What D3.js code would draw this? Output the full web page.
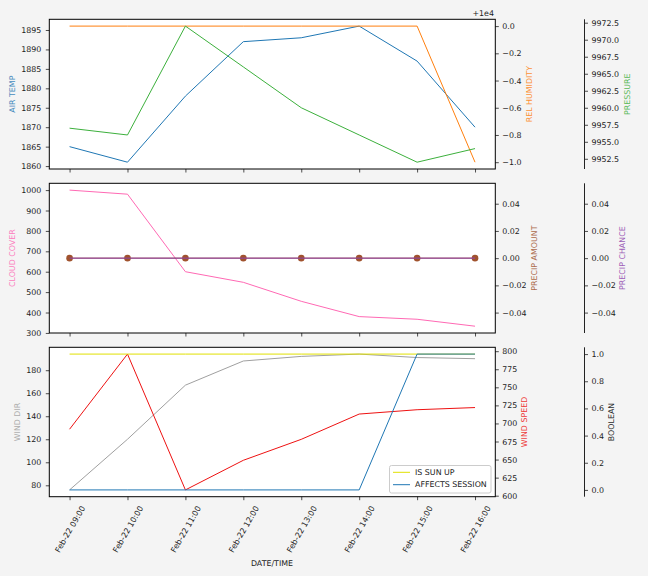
<!DOCTYPE html>
<html>
<head>
<meta charset="utf-8">
<script src="https://cdn.jsdelivr.net/npm/d3@7"></script>
<style>
  html, body { margin: 0; padding: 0; background: #f4f4f4; }
  svg { display: block; font-family: "DejaVu Sans", sans-serif; }
  .tick text { font-size: 7.9px; fill: #222; }
</style>
</head>
<body>
<svg id="chart" width="648" height="576"></svg>
<script>
// ---- data ----
const times = ["2022-02-22T09:00","2022-02-22T10:00","2022-02-22T11:00","2022-02-22T12:00",
               "2022-02-22T13:00","2022-02-22T14:00","2022-02-22T15:00","2022-02-22T16:00"];
const airTemp = [1865, 1861, 1878, 1892, 1893, 1896, 1887, 1870];
const relHumidity = [10000, 10000, 10000, 10000, 10000, 10000, 10000, 9999];
const pressure = [9957, 9956, 9972, 9966, 9960, 9956, 9952, 9954];
const cloudCover = [1000, 980, 600, 548, 455, 380, 367, 333];
const precipAmount = [0, 0, 0, 0, 0, 0, 0, 0];
const precipChance = [0, 0, 0, 0, 0, 0, 0, 0];
const windDir = [76, 120, 167, 188, 192, 194, 191, 190];
const windSpeed = [692, 796, 608, 649, 678, 713, 719, 722];
const isSunUp = [1, 1, 1, 1, 1, 1, 1, 1];
const affectsSession = [0, 0, 0, 0, 0, 0, 1, 1];
const humidityTicks = [0, -0.2, -0.4, -0.6, -0.8, -1.0];
const pressureTicks = [9952.5, 9955, 9957.5, 9960, 9962.5, 9965, 9967.5, 9970, 9972.5];
const airTempTicks = [1860, 1865, 1870, 1875, 1880, 1885, 1890, 1895];
const cloudTicks = [300, 400, 500, 600, 700, 800, 900, 1000];
const precipTicks = [-0.04, -0.02, 0, 0.02, 0.04];
const windDirTicks = [80, 100, 120, 140, 160, 180];
const windSpeedTicks = [600, 625, 650, 675, 700, 725, 750, 775, 800];
const boolTicks = [0, 0.2, 0.4, 0.6, 0.8, 1.0];

// ---- colors ----
const C = {
  air: "#1f77b4", hum: "#ff7f0e", pres: "#3cb03c",
  cloud: "#ff69b4", pamt: "#a0522d", pch: "#8e44ad",
  wdir: "#a0a0a0", wspd: "#ee1111", sun: "#e0e000", sess: "#1f77b4"
};
const FS = 7.9;

const svg = d3.select("#chart");
const parse = d3.timeParse("%Y-%m-%dT%H:%M");
const dates = times.map(parse);

const L = 49.3, R = 495.3, farX = 584.5;
const panels = [{top: 19.3, bot: 169}, {top: 183.3, bot: 333}, {top: 347.3, bot: 496.7}];

function padDomain(arr) {
  let mn = d3.min(arr), mx = d3.max(arr);
  if (mn === mx) { return [mn - 0.055, mx + 0.055]; }
  const m = (mx - mn) * 0.05;
  return [mn - m, mx + m];
}

const t0 = dates[0].getTime(), t1 = dates[dates.length - 1].getTime();
const tm = (t1 - t0) * 0.05;
const x = d3.scaleTime().domain([new Date(t0 - tm), new Date(t1 + tm)]).range([L, R]);

const fmtMinus = s => s.replace("-", "\u2212");

panels.forEach(p => {
  svg.append("rect").attr("x", L).attr("y", p.top).attr("width", R - L).attr("height", p.bot - p.top)
    .attr("fill", "#fff");
});

function line(g, vals, y, color, width) {
  const ln = d3.line().x((d, i) => x(dates[i])).y(d => y(d));
  g.append("path").datum(vals).attr("d", ln).attr("fill", "none")
    .attr("stroke", color).attr("stroke-width", width || 1);
}

function styleAxis(g) {
  g.selectAll(".domain").remove();
  g.selectAll(".tick line").attr("stroke", "#222").attr("stroke-width", 0.8);
  g.selectAll(".tick text").attr("font-family", "DejaVu Sans, sans-serif");
}

function yLabel(p, label, color, cx) {
  svg.append("text").attr("transform", `translate(${cx},${(p.top + p.bot) / 2}) rotate(-90)`)
    .attr("text-anchor", "middle").attr("dy", "0.35em").attr("font-size", FS)
    .attr("fill", color).attr("opacity", 0.85).text(label);
}
function leftAxis(p, scale, ticks, fmt, label, color, labelX) {
  const g = svg.append("g").attr("transform", `translate(${L},0)`)
    .call(d3.axisLeft(scale).tickValues(ticks).tickFormat(fmt).tickSize(3.5).tickPadding(4.5));
  styleAxis(g);
  yLabel(p, label, color, labelX);
}
function rightAxis(p, scale, ticks, fmt, label, color, ax, labelX, spine) {
  const g = svg.append("g").attr("transform", `translate(${ax},0)`)
    .call(d3.axisRight(scale).tickValues(ticks).tickFormat(fmt).tickSize(3.5).tickPadding(3.5));
  styleAxis(g);
  if (spine) {
    svg.append("line").attr("x1", ax).attr("x2", ax).attr("y1", p.top).attr("y2", p.bot)
      .attr("stroke", "#222").attr("stroke-width", 1);
  }
  yLabel(p, label, color, labelX);
}
function bottomTicks(p, withLabels) {
  const g = svg.append("g").attr("transform", `translate(0,${p.bot})`)
    .call(d3.axisBottom(x).tickValues(dates).tickSize(3.5).tickFormat(withLabels ? d3.timeFormat("%b-%y %H:%M") : ""));
  styleAxis(g);
  if (withLabels) {
    g.selectAll(".tick text")
      .attr("text-anchor", "middle")
      .attr("y", 0).attr("x", 0).attr("dy", "0.35em")
      .attr("transform", "translate(0,32.5) rotate(-60)");
  }
}
function frame(p) {
  svg.append("rect").attr("x", L).attr("y", p.top).attr("width", R - L).attr("height", p.bot - p.top)
    .attr("fill", "none").attr("stroke", "#000").attr("stroke-width", 1);
}

// ---- panel 1 ----
const p1 = panels[0];
const yAir = d3.scaleLinear().domain(padDomain(airTemp)).range([p1.bot, p1.top]);
const humOff = relHumidity.map(v => v - 10000);
const yHum = d3.scaleLinear().domain(padDomain(humOff)).range([p1.bot, p1.top]);
const yPres = d3.scaleLinear().domain(padDomain(pressure)).range([p1.bot, p1.top]);
const g1 = svg.append("g");
line(g1, airTemp, yAir, C.air);
line(g1, humOff, yHum, C.hum);
line(g1, pressure, yPres, C.pres);
leftAxis(p1, yAir, airTempTicks, d3.format("d"), "AIR TEMP", C.air, 12);
rightAxis(p1, yHum, humidityTicks, d => fmtMinus(d3.format(".1f")(d)), "REL HUMIDITY", C.hum, R, 529, false);
rightAxis(p1, yPres, pressureTicks, d3.format(".1f"), "PRESSURE", C.pres, farX, 627, true);
svg.append("text").attr("x", 494).attr("y", 16).attr("text-anchor", "end").attr("font-size", FS)
  .attr("fill", "#222").text("+1e4");
bottomTicks(p1, false);
frame(p1);

// ---- panel 2 ----
const p2 = panels[1];
const yCloud = d3.scaleLinear().domain(padDomain(cloudCover)).range([p2.bot, p2.top]);
const yPamt = d3.scaleLinear().domain(padDomain(precipAmount)).range([p2.bot, p2.top]);
const yPch = d3.scaleLinear().domain(padDomain(precipChance)).range([p2.bot, p2.top]);
const g2 = svg.append("g");
line(g2, cloudCover, yCloud, C.cloud);
line(g2, precipAmount, yPamt, C.pamt);
g2.selectAll("circle.pamt").data(precipAmount).enter().append("circle")
  .attr("cx", (d, i) => x(dates[i])).attr("cy", d => yPamt(d)).attr("r", 3.3).attr("fill", C.pamt);
line(g2, precipChance, yPch, C.pch);
leftAxis(p2, yCloud, cloudTicks, d3.format("d"), "CLOUD COVER", C.cloud, 12);
rightAxis(p2, yPamt, precipTicks, d => fmtMinus(d3.format(".2f")(d)), "PRECIP AMOUNT", C.pamt, R, 534, false);
rightAxis(p2, yPch, precipTicks, d => fmtMinus(d3.format(".2f")(d)), "PRECIP CHANCE", C.pch, farX, 622, true);
bottomTicks(p2, false);
frame(p2);

// ---- panel 3 ----
const p3 = panels[2];
const yDir = d3.scaleLinear().domain(padDomain(windDir)).range([p3.bot, p3.top]);
const ySpd = d3.scaleLinear().domain(padDomain(windSpeed)).range([p3.bot, p3.top]);
const yBool = d3.scaleLinear().domain([-0.05, 1.05]).range([p3.bot, p3.top]);
const g3 = svg.append("g");
line(g3, windDir, yDir, C.wdir);
line(g3, windSpeed, ySpd, C.wspd);
line(g3, isSunUp, yBool, C.sun);
line(g3, affectsSession, yBool, C.sess);
leftAxis(p3, yDir, windDirTicks, d3.format("d"), "WIND DIR", C.wdir, 17);
rightAxis(p3, ySpd, windSpeedTicks, d3.format("d"), "WIND SPEED", C.wspd, R, 524, false);
rightAxis(p3, yBool, boolTicks, d3.format(".1f"), "BOOLEAN", "#000", farX, 611, true);
bottomTicks(p3, true);
frame(p3);

// legend
const lg = svg.append("g");
lg.append("rect").attr("x", 389.5).attr("y", 465.5).attr("width", 101.5).attr("height", 27.5).attr("rx", 2)
  .attr("fill", "#fff").attr("fill-opacity", 0.8).attr("stroke", "#ccc");
const legendItems = [{name: "IS SUN UP", color: C.sun}, {name: "AFFECTS SESSION", color: C.sess}];
legendItems.forEach((it, i) => {
  const yy = 472.3 + i * 12.4;
  lg.append("line").attr("x1", 393).attr("x2", 410).attr("y1", yy).attr("y2", yy)
    .attr("stroke", it.color).attr("stroke-width", 1);
  lg.append("text").attr("x", 415).attr("y", yy).attr("dy", "0.35em").attr("font-size", FS)
    .attr("fill", "#222").text(it.name);
});

// x label
svg.append("text").attr("x", 272).attr("y", 566).attr("text-anchor", "middle").attr("font-size", FS)
  .attr("fill", "#222").text("DATE/TIME");
</script>
</body>
</html>
